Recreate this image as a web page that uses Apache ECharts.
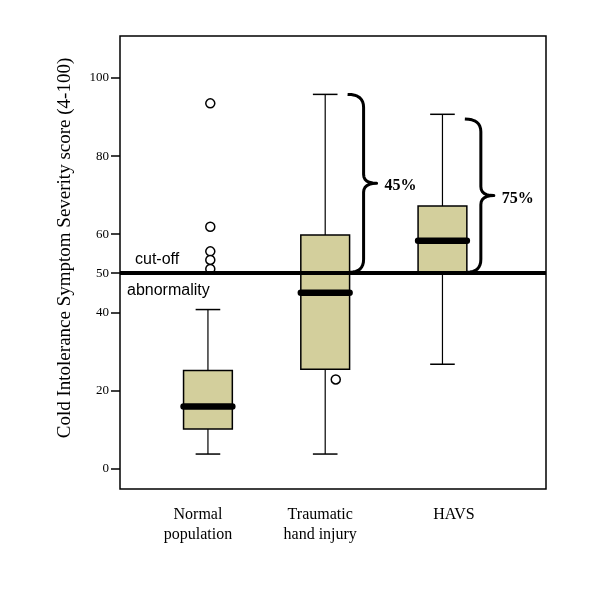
<!DOCTYPE html>
<html>
<head>
<meta charset="utf-8">
<script src="https://cdn.jsdelivr.net/npm/echarts@6/dist/echarts.min.js"></script>
<style>html,body{margin:0;padding:0;background:#fff}#c{width:600px;height:600px}</style>
</head>
<body>
<div id="c"></div>
<script>
// ---- data ----
var categories = ['Normal\npopulation', 'Traumatic\nhand injury', 'HAVS'];
var catPos = [1, 2, 3];
var whiskerLow = [3.7, 3.7, 26.7];
var q1 = [10.1, 25.4, 50];
var median = [15.9, 45.0, 58.3];
var q3 = [25.1, 59.8, 67.2];
var whiskerHigh = [40.7, 95.8, 90.7];
var outlierPos = [1.02, 1.02, 1.02, 1.02, 1.02, 2.09];
var outlierVal = [93.5, 61.9, 55.6, 53.4, 51.1, 22.8];
var cutoff = 50;
var braceCat = [2, 3];
var braceTop = [95.8, 89.5];
var braceLabels = ['45%', '75%'];
var yTicks = [0, 20, 40, 50, 60, 80, 100];
var yTitle = 'Cold Intolerance Symptom Severity score (4-100)';

var BOX_W = 0.416, CAP_W = 0.21;
var TAN = '#d3cf9c';
var labelStyles = ['sl10', 'sl5', 'sr11'];

var boxData = catPos.map(function (c, i) {
  return [c, whiskerLow[i], q1[i], median[i], q3[i], whiskerHigh[i]];
});
var outlierData = outlierPos.map(function (x, i) { return [x, outlierVal[i]]; });
var braceData = braceCat.map(function (c, i) { return [c, braceTop[i], cutoff, braceLabels[i]]; });

function quad(p0, p1, p2, n, out) {
  for (var k = 1; k <= n; k++) {
    var t = k / n, a = (1 - t) * (1 - t), b = 2 * (1 - t) * t, c = t * t;
    out.push([a * p0[0] + b * p1[0] + c * p2[0], a * p0[1] + b * p1[1] + c * p2[1]]);
  }
}

var lblBase = {fontFamily: 'Liberation Serif', fontSize: 16, color: '#000', lineHeight: 20};
function rs(pad) { return Object.assign({padding: pad}, lblBase); }

var chart = echarts.init(document.getElementById('c'), null, {renderer: 'canvas'});
var option = {
  animation: false,
  backgroundColor: '#fff',
  grid: {left: 120, right: 54, top: 36, bottom: 111, show: true, borderColor: '#000', borderWidth: 1.5, backgroundColor: 'transparent'},
  xAxis: {
    type: 'value', min: 0.25, max: 3.883,
    axisLine: {show: false}, axisTick: {show: false}, splitLine: {show: false},
    axisLabel: {
      customValues: catPos,
      formatter: function (v) {
        var i = catPos.indexOf(Math.round(v));
        if (i < 0) return '';
        return categories[i].split('\n').map(function (s) { return '{' + labelStyles[i] + '|' + s + '}'; }).join('\n');
      },
      fontFamily: 'Liberation Serif', fontSize: 16, color: '#000', lineHeight: 20, margin: 16, verticalAlign: 'top',
      rich: {
        sl10: rs([0, 20, 0, 0]),
        sl5: rs([0, 10, 0, 0]),
        sr11: rs([0, 0, 0, 23])
      }
    }
  },
  yAxis: {
    type: 'value', min: -5.25, max: 110.75,
    axisLine: {show: false}, splitLine: {show: false},
    axisTick: {show: true, customValues: yTicks, length: 9, lineStyle: {color: '#000', width: 1.5}},
    axisLabel: {customValues: yTicks, fontFamily: 'Liberation Serif', fontSize: 13, color: '#000', margin: 11}
  },
  series: [
    {
      type: 'custom', z: 2,
      data: boxData,
      renderItem: function (params, api) {
        var x = api.value(0);
        var lo = api.coord([x, api.value(1)]);
        var b1 = api.coord([x, api.value(2)]);
        var md = api.coord([x, api.value(3)]);
        var b3 = api.coord([x, api.value(4)]);
        var hi = api.coord([x, api.value(5)]);
        var hw = api.size([BOX_W, 0])[0] / 2;
        var cw = api.size([CAP_W, 0])[0] / 2;
        var ls = {stroke: '#000', lineWidth: 1.2};
        var cx = lo[0];
        return {type: 'group', children: [
          {type: 'line', shape: {x1: cx, y1: lo[1], x2: cx, y2: b1[1]}, style: ls},
          {type: 'line', shape: {x1: cx, y1: b3[1], x2: cx, y2: hi[1]}, style: ls},
          {type: 'line', shape: {x1: cx - cw, y1: lo[1], x2: cx + cw, y2: lo[1]}, style: {stroke: '#000', lineWidth: 1.5}},
          {type: 'line', shape: {x1: cx - cw, y1: hi[1], x2: cx + cw, y2: hi[1]}, style: {stroke: '#000', lineWidth: 1.5}},
          {type: 'rect', shape: {x: cx - hw, y: b3[1], width: 2 * hw, height: b1[1] - b3[1]}, style: {fill: TAN, stroke: '#000', lineWidth: 1.5}},
          {type: 'line', shape: {x1: cx - hw, y1: md[1], x2: cx + hw, y2: md[1]}, style: {stroke: '#000', lineWidth: 6.5, lineCap: 'round'}}
        ]};
      }
    },
    {
      type: 'scatter', z: 3,
      data: outlierData,
      symbol: 'circle', symbolSize: 9,
      itemStyle: {color: '#fff', borderColor: '#000', borderWidth: 1.5, opacity: 1},
      markLine: {
        silent: true, symbol: 'none', z: 5,
        lineStyle: {color: '#000', width: 4, type: 'solid'},
        label: {show: false},
        data: [{yAxis: cutoff}]
      }
    },
    {
      type: 'custom', z: 4,
      data: braceData,
      renderItem: function (params, api) {
        var x = api.value(0);
        var hw = api.size([BOX_W, 0])[0] / 2;
        var top = api.coord([x, api.value(1)]);
        var bot = api.coord([x, api.value(2)]);
        var x0 = top[0] + hw - 2;
        var xv = x0 + 16, xp = x0 + 29;
        var yT = top[1], yB = bot[1] - 1, yM = (yT + yB) / 2;
        var pts = [[x0, yT]];
        quad([x0, yT], [xv, yT], [xv, yT + 13], 8, pts);
        pts.push([xv, yM - 9]);
        quad([xv, yM - 9], [xv, yM], [xp, yM], 6, pts);
        quad([xp, yM], [xv, yM], [xv, yM + 9], 6, pts);
        pts.push([xv, yB - 13]);
        quad([xv, yB - 13], [xv, yB], [x0 + 2, yB], 8, pts);
        return {type: 'group', children: [
          {type: 'polyline', shape: {points: pts}, style: {stroke: '#000', lineWidth: 3, fill: null, lineJoin: 'round'}},
          {type: 'text', x: xp + 8, y: yM + 3, style: {text: api.value(3), fontFamily: 'Liberation Serif', fontWeight: 'bold', fontSize: 16, fill: '#000', align: 'left', verticalAlign: 'middle'}}
        ]};
      }
    }
  ],
  graphic: [
    {type: 'text', x: 65, y: 248, rotation: Math.PI / 2, z: 10, style: {text: yTitle, fontFamily: 'Liberation Serif', fontSize: 19, fill: '#000', align: 'center', verticalAlign: 'middle'}},
    {type: 'text', left: 135, top: 252, z: 10, style: {text: 'cut-off', fontFamily: 'Liberation Sans', fontSize: 16, fill: '#000'}},
    {type: 'text', left: 127, top: 283, z: 10, style: {text: 'abnormality', fontFamily: 'Liberation Sans', fontSize: 16, fill: '#000'}}
  ]
};
chart.setOption(option);
</script>
</body>
</html>
